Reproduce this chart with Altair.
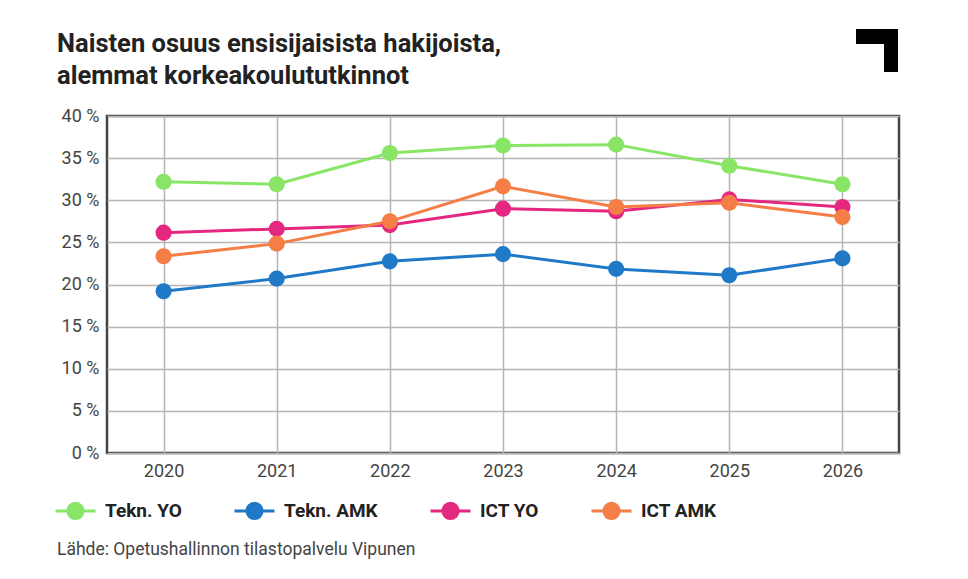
import altair as alt
import pandas as pd

years = ["2020", "2021", "2022", "2023", "2024", "2025", "2026"]
series_names = ["Tekn. YO", "Tekn. AMK", "ICT YO", "ICT AMK"]
tekn_yo = [32.2, 31.9, 35.6, 36.5, 36.6, 34.1, 31.9]
tekn_amk = [19.2, 20.7, 22.75, 23.6, 21.85, 21.1, 23.1]
ict_yo = [26.15, 26.6, 27.05, 29.0, 28.7, 30.1, 29.2]
ict_amk = [23.35, 24.85, 27.5, 31.65, 29.2, 29.7, 28.0]
colors = ["#88E566", "#2079C7", "#E5287F", "#F47E45"]
y_ticks = [0, 5, 10, 15, 20, 25, 30, 35, 40]
title_line1 = "Naisten osuus ensisijaisista hakijoista,"
title_line2 = "alemmat korkeakoulututkinnot"
source = "Lähde: Opetushallinnon tilastopalvelu Vipunen"

rows = []
for name, vals in zip(series_names, [tekn_yo, tekn_amk, ict_yo, ict_amk]):
    for yr, v in zip(years, vals):
        rows.append({"Vuosi": yr, "Sarja": name, "Osuus": v, "order": series_names.index(name)})
df = pd.DataFrame(rows)

FONT = "Roboto"

x_enc = alt.X("Vuosi:O", sort=years,
              scale=alt.Scale(type="point", padding=0.5),
              axis=alt.Axis(title=None, labelAngle=0, labelFontSize=18, labelColor="#444",
                            labelFont=FONT, labelPadding=9, ticks=False, domain=False,
                            grid=True, gridColor="#b5b5b5", gridWidth=1.5))
y_enc = alt.Y("Osuus:Q", scale=alt.Scale(domain=[0, 40], nice=False),
              axis=alt.Axis(title=None, values=y_ticks, labelExpr="datum.value + ' %'",
                            labelFontSize=18, labelColor="#444", labelFont=FONT,
                            labelPadding=8, ticks=False, domain=False,
                            grid=True, gridColor="#b5b5b5", gridWidth=1.5))
color_enc = alt.Color("Sarja:N", sort=series_names,
                      scale=alt.Scale(domain=series_names, range=colors),
                      legend=alt.Legend(title=None, orient="none", direction="horizontal",
                                        legendX=-53, legendY=373,
                                        symbolType="M-1,0H1M-0.38,0A0.38,0.38 0 1 1 0.38,0A0.38,0.38 0 1 1 -0.38,0Z",
                                        symbolSize=1600, symbolStrokeWidth=3,
                                        labelFont=FONT, labelFontSize=19, labelFontWeight="bold",
                                        labelColor="#222", labelOffset=8, columnPadding=46))

base = alt.Chart(df).encode(x=x_enc, y=y_enc, color=color_enc)
lines = base.mark_line(strokeWidth=3).encode(detail="Sarja:N", order="order:Q")
points = base.mark_circle(size=260, opacity=1).encode(order="order:Q")

one = alt.Data(values=[{}])
t1 = alt.Chart(one).mark_text(align="left", baseline="alphabetic", font=FONT, fontSize=25.5,
                              fontWeight="bold", color="#222").encode(
    x=alt.value(-50), y=alt.value(-64), text=alt.value(title_line1))
t2 = alt.Chart(one).mark_text(align="left", baseline="alphabetic", font=FONT, fontSize=25.5,
                              fontWeight="bold", color="#222").encode(
    x=alt.value(-50), y=alt.value(-32), text=alt.value(title_line2))
src = alt.Chart(one).mark_text(align="left", baseline="middle", font=FONT, fontSize=17.5,
                               color="#444").encode(
    x=alt.value(-50), y=alt.value(434), text=alt.value(source))
logo_h = alt.Chart(one).mark_rect(color="#000").encode(
    x=alt.value(749), x2=alt.value(791), y=alt.value(-87), y2=alt.value(-72))
logo_v = alt.Chart(one).mark_rect(color="#000").encode(
    x=alt.value(777), x2=alt.value(791), y=alt.value(-87), y2=alt.value(-44))

chart = alt.layer(lines, points, t1, t2, src, logo_h, logo_v).properties(
    width=792, height=337,
    autosize=alt.AutoSizeParams(type="none"),
    padding={"left": 107, "top": 116, "right": 69, "bottom": 126},
    background="white",
).configure_view(stroke="#444", strokeWidth=2.5)

chart.save("out.html", embed_options={"renderer": "svg", "actions": False})
